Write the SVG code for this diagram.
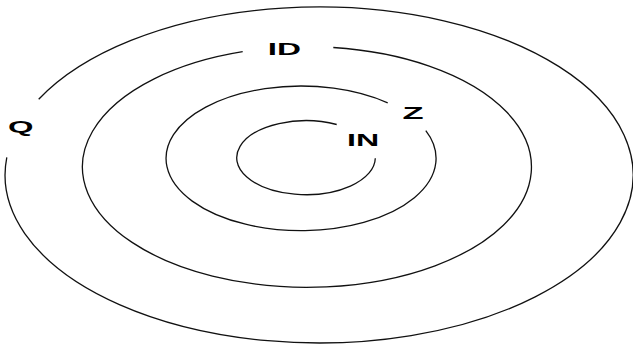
<svg xmlns="http://www.w3.org/2000/svg" width="633" height="344" viewBox="0 0 633 344">
<style>
.ring{fill:none;stroke:#111;stroke-width:1.3;stroke-linecap:butt}
.lbl{font-family:"Liberation Sans",Arial,sans-serif;font-weight:bold;font-size:17px;fill:#000}
</style>
<rect width="633" height="344" fill="#fff"/>
<g id="ring-Q">
<path class="ring" d="M 38.7 99.3 A 314 168 0 1 1 6.8 157.3"/>
<text class="lbl" x="7.9" y="133.3" textLength="25.5" lengthAdjust="spacingAndGlyphs">Q</text>
</g>
<g id="ring-ID">
<path class="ring" d="M 333.3 47.5 A 224.5 120.3 0 1 1 242.7 51.7"/>
<text class="lbl" x="267.8" y="55" textLength="33.2" lengthAdjust="spacingAndGlyphs">ID</text>
</g>
<g id="ring-Z">
<path class="ring" d="M 425.8 130.7 A 135 72.3 0 1 1 387.7 102.9"/>
<text class="lbl" x="402.5" y="119.3" textLength="21.1" lengthAdjust="spacingAndGlyphs">Z</text>
</g>
<g id="ring-IN">
<path class="ring" d="M 375.3 158.3 A 69.3 37 0 1 1 336.7 124.5"/>
<text class="lbl" x="347" y="145.7" textLength="32.1" lengthAdjust="spacingAndGlyphs">IN</text>
</g>
</svg>
